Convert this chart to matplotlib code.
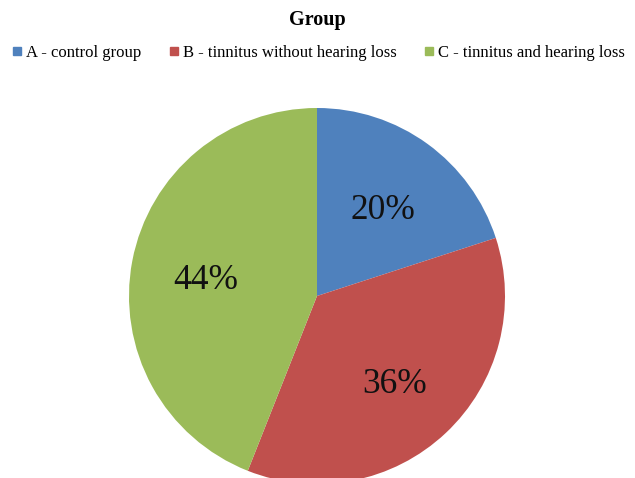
import matplotlib
matplotlib.use("Agg")
import matplotlib.pyplot as plt
from matplotlib.lines import Line2D
from matplotlib.transforms import ScaledTranslation

categories = ["A - control group", "B - tinnitus without hearing loss", "C - tinnitus and hearing loss"]
values = [20, 36, 44]
colors = ["#4F81BD", "#C0504D", "#9BBB59"]
title = "Group"

plt.rcParams['font.family'] = ['Liberation Serif', 'DejaVu Serif']

fig = plt.figure(figsize=(6.35, 4.78), dpi=100)
ax = fig.add_axes([129/635, -6/478, 376/635, 376/478])
wedges, texts, autotexts = ax.pie(values, colors=colors, startangle=90, counterclock=False,
                                  autopct='%d%%', pctdistance=0.6, radius=1,
                                  wedgeprops=dict(linewidth=0, edgecolor='none'),
                                  textprops=dict(fontsize=25.5, color='#111111'))
for w in wedges:
    w.set_clip_on(False)
shift = ScaledTranslation(0, -6/100, fig.dpi_scale_trans)
for t in autotexts:
    t.set_transform(t.get_transform() + shift)
ax.set_xlim(-1, 1)
ax.set_ylim(-1, 1)
ax.set_aspect('equal')
ax.axis('off')

fig.text(0.5, 1 - 20/478, title, ha='center', va='center', fontsize=14.5, fontweight='bold')

handles = [Line2D([], [], marker='s', linestyle='none', markersize=5.2, markerfacecolor=c,
                  markeredgecolor=c) for c in colors]
fig.legend(handles, categories, loc='center', bbox_to_anchor=(319/635, 1 - 53/478), ncol=3,
           frameon=False, fontsize=12, handlelength=0.5, handletextpad=0.3, columnspacing=1.7,
           borderpad=0, borderaxespad=0)

fig.savefig("out.png", dpi=100)
